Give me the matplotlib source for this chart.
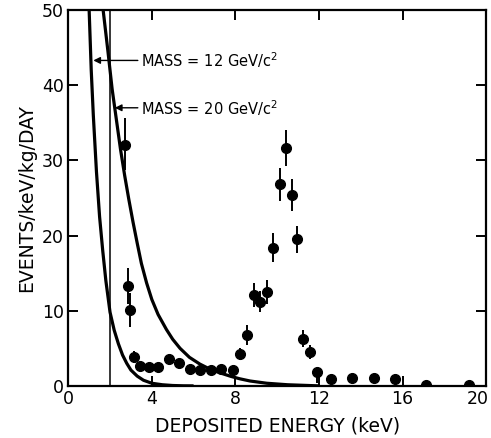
import matplotlib
matplotlib.use("Agg")
import matplotlib.pyplot as plt
import matplotlib.transforms as mtransforms

# ---- data ----
energy = [2.73, 2.85, 2.97, 3.13, 3.42, 3.85, 4.28, 4.84, 5.29, 5.82, 6.30, 6.81,
          7.32, 7.87, 8.22, 8.54, 8.89, 9.17, 9.50, 9.78, 10.12, 10.44, 10.70,
          10.97, 11.26, 11.57, 11.93, 12.57, 13.60, 14.64, 15.65, 17.14, 19.17]
rate = [32.0, 13.3, 10.1, 3.9, 2.6, 2.5, 2.5, 3.6, 3.0, 2.3, 2.1, 2.1,
        2.3, 2.1, 4.3, 6.8, 12.1, 11.2, 12.5, 18.4, 26.8, 31.6, 25.4,
        19.5, 6.3, 4.5, 1.8, 0.9, 1.05, 1.05, 0.9, 0.13, 0.13]
err_lo = [3.3, 2.4, 2.3, 0.8, 0, 0, 0, 0, 0, 0, 0, 0,
          0, 0, 0.8, 1.3, 1.6, 1.4, 1.6, 1.9, 2.2, 2.4, 2.1,
          1.8, 1.1, 0.9, 1.4, 0, 0, 0, 0, 0, 0]
err_hi = [3.6, 2.4, 2.3, 0.8, 0, 0, 0, 0, 0, 0, 0, 0,
          0, 0, 0.8, 1.3, 1.6, 1.4, 1.6, 1.9, 2.2, 2.4, 2.1,
          1.8, 1.1, 0.9, 0.4, 0, 0, 0, 0, 0, 0]

# model curves
m12_x = [1.0, 1.1, 1.2, 1.35, 1.5, 1.65, 1.8, 2.0, 2.2, 2.4, 2.6, 2.8, 3.0,
         3.3, 3.6, 4.0, 4.5, 5.0, 5.5, 6.0]
m12_y = [50, 42, 36, 28.5, 22.5, 18, 14.0, 9.8, 7.4, 5.6, 4.1, 3.0, 2.1,
         1.3, 0.75, 0.35, 0.15, 0.05, 0.01, 0.0]
m20_x = [1.67, 1.9, 2.1, 2.3, 2.5, 2.7, 2.9, 3.1, 3.3, 3.5, 3.75, 4.0, 4.3,
         4.7, 5.0, 5.35, 5.8, 6.3, 6.8, 7.3, 7.8, 8.2, 8.7, 9.5, 10.5, 11.5, 12.0]
m20_y = [50, 44.5, 39.5, 35.5, 31.5, 28, 24.8, 21.8, 19.0, 16.3, 13.7, 11.5, 9.5,
         7.5, 6.2, 5.0, 3.8, 2.9, 2.2, 1.7, 1.25, 0.95, 0.65, 0.35, 0.15, 0.05, 0.0]

threshold = 2.0
labels = ["MASS = 12 GeV/c$^2$", "MASS = 20 GeV/c$^2$"]
label_y = [43.3, 37.0]
arrow_tip_x = [1.2, 2.23]

xticks = [0, 4, 8, 12, 16, 20]
yticks = [0, 10, 20, 30, 40, 50]

plt.rcParams['font.family'] = ['DejaVu Sans']
fig = plt.figure(figsize=(4.91, 4.38), dpi=100)
ax = fig.add_axes([0.139, 0.119, 0.851, 0.858])

ax.plot(m12_x, m12_y, color='black', lw=2.3, solid_capstyle='butt', clip_on=True)
ax.plot(m20_x, m20_y, color='black', lw=2.3, solid_capstyle='butt', clip_on=True)
ax.axvline(threshold, color='black', lw=1.1)

ax.errorbar(energy, rate, yerr=[err_lo, err_hi], fmt='o', color='black',
            ms=7, elinewidth=1.4, capsize=0)

for lab, yy, tip in zip(labels, label_y, arrow_tip_x):
    ax.annotate('', xy=(tip, yy), xytext=(3.33, yy),
                arrowprops=dict(arrowstyle='-|>', color='black', lw=1.0,
                                mutation_scale=10, shrinkA=0, shrinkB=0))
    ax.text(3.5, yy, lab, fontsize=10.5, va='center', ha='left')

ax.set_xlim(0, 20)
ax.set_ylim(0, 50)
ax.set_xticks(xticks)
ax.set_yticks(yticks)
ax.set_xticklabels([str(t) for t in xticks], fontsize=12.5)
ax.set_yticklabels([str(t) for t in yticks], fontsize=12.5)
ax.tick_params(direction='in', length=7, width=1.4, top=True, right=True, pad=3)
last = ax.get_xticklabels()[-1]
last.set_ha('right')
last.set_transform(last.get_transform() +
                   mtransforms.ScaledTranslation(3 / 100, 0, fig.dpi_scale_trans))
for s in ax.spines.values():
    s.set_linewidth(1.6)
ax.set_xlabel('DEPOSITED ENERGY (keV)', fontsize=13.5, labelpad=6)
ax.set_ylabel('EVENTS/keV/kg/DAY', fontsize=13.5, labelpad=4)

fig.savefig('out.png', dpi=100)
